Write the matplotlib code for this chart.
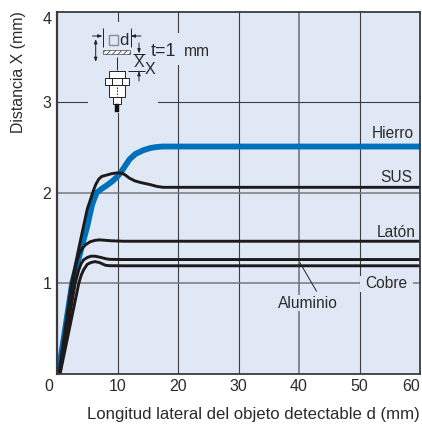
import matplotlib
matplotlib.use("Agg")
import matplotlib.pyplot as plt
from matplotlib.patches import Rectangle
from matplotlib.transforms import Affine2D, ScaledTranslation

plt.rcParams['font.family'] = ['Liberation Sans', 'DejaVu Sans']
plt.rcParams['hatch.linewidth'] = 0.5

W, H = 422, 426
INK = '#2b2b2b'
BG = '#e1e8f5'
BLUE = '#0070ba'

# ---- data ----
x_ticks = [0, 10, 20, 30, 40, 50, 60]
y_ticks = [1, 2, 3, 4]
hierro_x = [0.2, 2.5, 4, 5, 5.8, 6.55, 7.3, 8.2, 9.2, 10, 10.7, 11.4, 12, 13, 14.3, 15.5, 16.5, 17.5, 20, 60]
hierro_y = [0, 1.0, 1.38, 1.63, 1.87, 2.00, 2.04, 2.08, 2.13, 2.18, 2.24, 2.31, 2.37, 2.43, 2.47, 2.495, 2.505, 2.51, 2.51, 2.51]
sus_x = [0.3, 2.4, 3.8, 5, 5.6, 6, 6.4, 6.9, 7.4, 8.2, 9, 10, 10.7, 11.2, 12, 12.9, 14, 15.4, 16.5, 17.5, 20, 60]
sus_y = [0, 1.0, 1.45, 1.82, 1.94, 2.02, 2.09, 2.15, 2.18, 2.195, 2.21, 2.22, 2.215, 2.20, 2.16, 2.13, 2.11, 2.09, 2.07, 2.06, 2.06, 2.06]
laton_x = [0.4, 2.6, 3.3, 3.7, 4.2, 4.8, 5.5, 6.3, 7, 8, 9, 11, 60]
laton_y = [0, 1.0, 1.25, 1.33, 1.39, 1.43, 1.46, 1.475, 1.48, 1.475, 1.47, 1.465, 1.465]
aluminio_x = [0.45, 3.0, 3.6, 4, 4.4, 5, 5.6, 6.3, 7, 7.6, 8.2, 8.8, 11, 60]
aluminio_y = [0, 1.0, 1.15, 1.22, 1.26, 1.285, 1.30, 1.30, 1.29, 1.28, 1.27, 1.265, 1.263, 1.263]
cobre_x = [0.5, 3.6, 4, 4.4, 5, 5.6, 6.3, 7, 7.5, 8, 8.6, 11, 60]
cobre_y = [0, 1.0, 1.09, 1.15, 1.21, 1.23, 1.24, 1.23, 1.215, 1.20, 1.195, 1.194, 1.194]

fig = plt.figure(figsize=(W / 100, H / 100), dpi=100, facecolor='white')
ax = fig.add_axes([57 / W, (H - 374) / H, 363 / W, 362.5 / H], facecolor=BG)
ax.set_xlim(0, 60)
ax.set_ylim(0, 4)

# figure pixels with the origin at top left
PX = Affine2D().scale(1, -1).translate(0, H)


def seg(xs, ys, lw=0.7, color='#222222', z=6, **kw):
    ax.plot(xs, ys, transform=PX, color=color, lw=lw, zorder=z, clip_on=False,
            solid_capstyle='butt', **kw)


def box(x0, y0, x1, y1, fc='white', ec='#222222', lw=0.7, z=6, **kw):
    ax.add_patch(Rectangle((x0, y0), x1 - x0, y1 - y0, transform=PX, fc=fc, ec=ec,
                           lw=lw, zorder=z, clip_on=False, **kw))


def arrow(x0, y0, x1, y1):
    ax.annotate('', xy=(x1, y1), xytext=(x0, y0), xycoords=PX, textcoords=PX, zorder=7,
                arrowprops=dict(arrowstyle='-|>,head_length=0.25,head_width=0.09', color='#222222',
                                lw=0.7, shrinkA=0, shrinkB=0))


# grid
for v in x_ticks[1:-1]:
    ax.axvline(v, color='#76787d' if v == 40 else '#3c3d40', lw=1.2 if v == 40 else 0.8, zorder=1)
ax.axhline(3, color='#3c3d40', lw=0.8, zorder=1)
ax.axhline(2, color='#77797d', lw=1.1, zorder=1)
ax.axhline(1, color='#77797d', lw=1.1, zorder=1)

# gaps cut in the grid for the inset and the labels
box(88, 22, 158, 113, fc=BG, ec='none', lw=0, z=1.5)
box(158, 33, 215, 65, fc=BG, ec='none', lw=0, z=1.5)
box(360, 276, 413, 292, fc=BG, ec='none', lw=0, z=1.5)
box(275, 295, 340, 311, fc=BG, ec='none', lw=0, z=1.5)

# curves
ax.plot(hierro_x, hierro_y, color=BLUE, lw=4.2, zorder=3, solid_joinstyle='round', solid_capstyle='butt')
for xs, ys in [(sus_x, sus_y), (laton_x, laton_y), (aluminio_x, aluminio_y), (cobre_x, cobre_y)]:
    ax.plot(xs, ys, color='#1c1a1b', lw=2.1, zorder=4, solid_joinstyle='round', solid_capstyle='butt')

# spines and ticks
for s in ax.spines.values():
    s.set_color('#3a3a42')
    s.set_linewidth(1.3)
    s.set_zorder(8)
ax.spines['left'].set_linewidth(1.6)
ax.set_xticks(x_ticks)
ax.set_yticks(y_ticks)
ax.tick_params(length=0, labelsize=11.5, labelcolor=INK, pad=4)
ax.set_yticklabels([str(v) for v in y_ticks])
ax.set_xticklabels([str(v) for v in x_ticks])
ax.tick_params(axis='x', pad=3.5)
# end labels sit inward, as in the print
xl = ax.get_xticklabels()
xl[0].set_transform(xl[0].get_transform() + ScaledTranslation(-8 / 100, 0, fig.dpi_scale_trans))
xl[-1].set_transform(xl[-1].get_transform() + ScaledTranslation(-9 / 100, 0, fig.dpi_scale_trans))
yl = ax.get_yticklabels()
yl[-1].set_transform(yl[-1].get_transform() + ScaledTranslation(0, -6 / 100, fig.dpi_scale_trans))

fig.text(420 / W, 1 - 414 / H, 'Longitud lateral del objeto detectable d (mm)', ha='right', va='center',
         fontsize=12.1, color=INK)
fig.text(19 / W, 1 - 72 / H, 'Distancia X (mm)', ha='center', va='center', rotation=90,
         fontsize=11.4, color=INK)

# series labels
lab = dict(transform=PX, fontsize=11.2, color=INK, va='center', zorder=7)
ax.text(414, 134, 'Hierro', ha='right', **lab)
ax.text(412, 177.5, 'SUS', ha='right', **lab)
ax.text(416, 232.5, 'Latón', ha='right', **lab)
ax.text(386, 284, 'Cobre', ha='center', **lab)
ax.text(308, 303, 'Aluminio', ha='center', **lab)
seg([316.7, 299.5], [291.5, 262], lw=0.7)

# inset sketch of the sensor and target
box(102.7, 49.5, 130, 54, fc='white', ec='#222222', lw=0.4, hatch='//////')
seg([102.7, 102.7], [28, 47])
seg([130.5, 130.5], [28, 47])
arrow(92.5, 36, 102.5, 36)
arrow(141, 36, 130.7, 36)
box(109, 34.5, 118, 45, fc='none', ec='#8a8d93', lw=1.0)
ax.text(123.5, 40.5, 'd', transform=PX, fontsize=12, color=INK, ha='center', va='center', zorder=7)
arrow(95.7, 50, 95.7, 39)
arrow(95.7, 50, 95.7, 62)
arrow(139, 43, 139, 53.5)
seg([133, 144.5], [54, 54])
ax.text(138.7, 62.5, 'X', transform=PX, fontsize=11.5, color=INK, ha='center', va='center', zorder=7)
seg([128, 144.5], [70.5, 70.5])
arrow(139, 81, 139, 71)
ax.text(149.5, 69, 'X', transform=PX, fontsize=11.5, color=INK, ha='center', va='center', zorder=7)
ax.text(151, 51, 't=1', transform=PX, fontsize=13, color=INK, ha='left', va='center', zorder=7)
ax.text(184, 52, 'mm', transform=PX, fontsize=11.2, color=INK, ha='left', va='center', zorder=7)
seg([117.3, 117.3], [57, 70])
box(109, 70.5, 125, 78)
box(104.7, 78, 128.7, 85)
seg([111.7, 111.7], [78, 85])
seg([121.7, 121.7], [78, 85])
box(109, 85, 125, 96.5)
seg([117.3, 117.3], [87, 96], lw=0.7, ls=(0, (1.5, 1.5)))
box(112.7, 96.5, 121, 104)
box(115.3, 104, 118.7, 112, fc='#111111', ec='#111111', lw=0.3)

fig.savefig('out.png', dpi=100, facecolor='white')
